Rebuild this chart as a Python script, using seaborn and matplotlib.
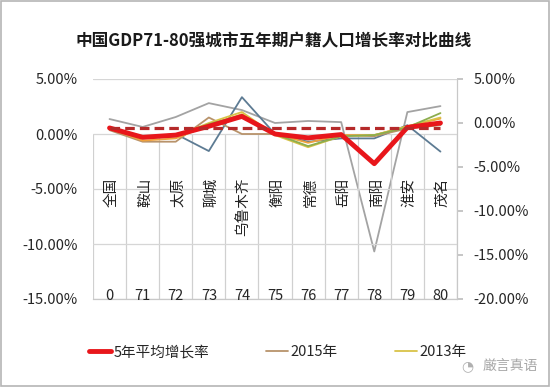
import numpy as np
import pandas as pd
import matplotlib
matplotlib.use("Agg")
import matplotlib.pyplot as plt
from matplotlib.lines import Line2D
from matplotlib.patches import Rectangle
import seaborn as sns

# ---------------- data ----------------
cities = ["全国", "鞍山", "太原", "聊城", "乌鲁木齐", "衡阳", "常德", "岳阳", "南阳", "淮安", "茂名"]
ranks = ["0", "71", "72", "73", "74", "75", "76", "77", "78", "79", "80"]

avg5 = [0.55, -0.3, -0.1, 0.7, 1.6, 0.0, -0.35, -0.05, -2.7, 0.6, 1.0]          # 5年平均增长率
y2015 = [0.35, -0.7, -0.7, 1.5, 0.0, 0.0, -0.5, -0.1, -0.2, 0.5, 0.8]
y2013 = [0.5, -0.3, -0.2, 1.0, 2.0, -0.1, -1.2, -0.2, -0.1, 0.7, 1.5]
y2014 = [0.5, -0.4, -0.2, 0.9, 1.7, 0.0, -1.1, -0.2, -0.1, 0.6, 1.9]
y2012 = [0.5, -0.6, -0.4, 0.8, 1.8, 0.0, -0.8, -0.1, -0.1, 0.7, 1.4]
y2011 = [0.45, -0.3, 0.0, -1.55, 3.35, 0.0, -0.7, -0.4, -0.4, 0.8, -1.6]
y2016 = [0.45, -0.45, 0.68, 2.26, 1.47, 0.0, 0.23, 0.1, -14.6, 1.24, 1.92]      # secondary axis
national = [0.55, 0.55, 0.55, 0.55, 0.55, 0.55, 0.55, 0.55, 0.55, 0.55, 0.55]

left_ticks = [5, 0, -5, -10, -15]
right_ticks = [5, 0, -5, -10, -15, -20]

title = "中国GDP71-80强城市五年期户籍人口增长率对比曲线"

# ---------------- style ----------------
sns.set_theme(style="white")
plt.rcParams["font.family"] = ["Noto Sans CJK SC", "DejaVu Sans"]
plt.rcParams["axes.unicode_minus"] = False

fig = plt.figure(figsize=(5.5, 3.87), dpi=100)
fig.patch.set_facecolor("white")
ax = fig.add_axes([93 / 550, 1 - 299 / 387, (457 - 93) / 550, (299 - 79) / 387])
ax2 = ax.twinx()

idx = np.arange(len(cities))
df = pd.DataFrame({"idx": idx, "avg5": avg5, "y2015": y2015, "y2013": y2013,
                   "y2014": y2014, "y2012": y2012, "y2011": y2011,
                   "y2016": y2016, "national": national})

# secondary-axis series
sns.lineplot(data=df, x="idx", y="y2016", ax=ax2, color="#a3a3a3", lw=1.3)
# primary-axis series
sns.lineplot(data=df, x="idx", y="y2011", ax=ax, color="#5d7b93", lw=1.3)
sns.lineplot(data=df, x="idx", y="y2015", ax=ax, color="#b8936b", lw=1.3)
sns.lineplot(data=df, x="idx", y="y2012", ax=ax, color="#f0a23c", lw=1.3)
sns.lineplot(data=df, x="idx", y="y2013", ax=ax, color="#d9c348", lw=1.3)
sns.lineplot(data=df, x="idx", y="y2014", ax=ax, color="#8cad4e", lw=1.3)
sns.lineplot(data=df, x="idx", y="avg5", ax=ax, color="#e8161b", lw=3.5)
sns.lineplot(data=df, x="idx", y="national", ax=ax, color="#b52a2a", lw=2.3,
             linestyle=(0, (3, 1.6)))

ax.set_zorder(ax2.get_zorder() + 1)
ax.patch.set_visible(False)

# axes limits and ticks
n = len(cities)
ax.set_xlim(-0.5, n - 0.5)
ax.set_ylim(-15, 5)
ax2.set_ylim(-20, 5)
ax.set_xlabel("")
ax.set_ylabel("")
ax2.set_ylabel("")

ax.set_yticks(left_ticks)
ax.set_yticklabels([f"{v:.2f}%" for v in left_ticks])
ax2.set_yticks(right_ticks)
ax2.set_yticklabels([f"{v:.2f}%" for v in right_ticks])

ax.tick_params(axis="y", length=0, pad=11, labelsize=10.5, labelcolor="#262626")
ax2.tick_params(axis="y", length=4, direction="out", color="#bfbfbf", pad=8,
                labelsize=10.5, labelcolor="#262626")

bounds = np.arange(n + 1) - 0.5
ax.set_xticks([])
ax.set_xticks(bounds, minor=True)
ax.tick_params(axis="x", which="minor", length=6, direction="out", color="#cfcfcf", width=0.8)

ax.yaxis.grid(True, color="#d6d6d6", lw=0.9)
ax.xaxis.grid(False)
ax2.grid(False)
ax.vlines(bounds, -15, 0, colors="#d0d0d0", lw=0.9, zorder=0.5)

for s in ["left", "top", "right"]:
    ax.spines[s].set_visible(False)
for s in ["left", "top", "bottom"]:
    ax2.spines[s].set_visible(False)
ax2.spines["right"].set_color("#c8c8c8")
ax2.spines["right"].set_linewidth(0.9)
ax.spines["bottom"].set_color("#c8c8c8")
ax.spines["bottom"].set_linewidth(0.9)

# category names (vertical) and rank numbers
for i, (c, r) in enumerate(zip(cities, ranks)):
    ax.text(i + 0.07, -4.0, c, rotation=90, ha="center", va="top",
            fontsize=10.5, color="#222222", zorder=5)
    ax.text(i, -14.7, r, ha="center", va="center", fontsize=10.5,
            color="#262626", zorder=5)

# title
fig.text(0.497, 1 - 41 / 387, title, ha="center", va="center",
         fontsize=12, fontweight="bold", color="#1a1a1a")

# legend
handles = [Line2D([], [], color="#e8161b", lw=3.5),
           Line2D([], [], color="#b8936b", lw=1.3),
           Line2D([], [], color="#d9c348", lw=1.3)]
labels = ["5年平均增长率", "2015年", "2013年"]
fig.legend(handles, labels, loc="center", bbox_to_anchor=(0.505, 1 - 352 / 387),
           ncol=3, frameon=False, fontsize=10.5, handlelength=1.5,
           handletextpad=0.2, columnspacing=3.9)

# watermark
fig.text(0.877, 1 - 366 / 387, "厳言真语", ha="left", va="center",
         fontsize=10, color="#a8a8a8")
fig.text(0.838, 1 - 366 / 387, "◔", ha="left", va="center",
         fontsize=10, color="#b0b0b0", family=["DejaVu Sans"])

# border
fig.patches.append(Rectangle((0.001, 0.002), 0.997, 0.996, transform=fig.transFigure,
                             fill=False, edgecolor="#b5b5b5", lw=1.2))

fig.savefig("out.png", dpi=100, facecolor="white")
